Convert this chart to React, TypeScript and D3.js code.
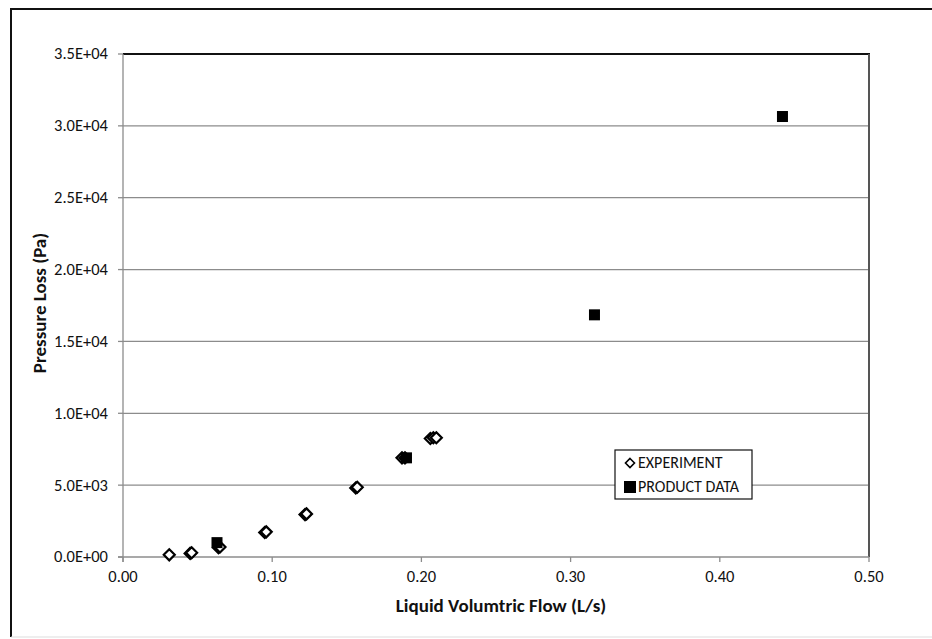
import React from "react";
import * as d3 from "d3";

const experimentFlow = [0.031, 0.045, 0.046, 0.064, 0.065, 0.095, 0.096, 0.122, 0.123, 0.156, 0.157, 0.187, 0.189, 0.206, 0.208, 0.210];
const experimentPressure = [150, 250, 300, 650, 700, 1700, 1750, 2950, 3000, 4800, 4850, 6900, 6900, 8250, 8300, 8300];
const productFlow = [0.063, 0.190, 0.316, 0.442];
const productPressure = [1000, 6900, 16850, 30650];
const xTicks = [0, 0.1, 0.2, 0.3, 0.4, 0.5];
const yTicks = [0, 5000, 10000, 15000, 20000, 25000, 30000, 35000];
const legendLabels = ["EXPERIMENT", "PRODUCT DATA"];

const W = 932, H = 639;
const FONT = "Carlito, 'Open Sans', 'Liberation Sans', sans-serif";

export default function App() {
  const x = d3.scaleLinear().domain([0, 0.5]).range([123, 869]);
  const y = d3.scaleLinear().domain([0, 35000]).range([557, 54]);
  const fmtY = (v: number) => {
    const s = v.toExponential(1).toUpperCase();
    return s.replace(/E([+-])(\d)$/, "E$10$2");
  };
  const diamond = (cx: number, cy: number, r: number) =>
    `M${cx},${cy - r}L${cx + r},${cy}L${cx},${cy + r}L${cx - r},${cy}Z`;

  return (
    <svg width={W} height={H} style={{ position: "absolute", left: 0, top: 0 }} fontFamily={FONT}>
      <rect x={0} y={0} width={W} height={H} fill="#fff" />
      {/* outer frame */}
      <line x1={11} y1={8} x2={11} y2={637} stroke="#111" strokeWidth={2} />
      <line x1={10} y1={9} x2={W} y2={9} stroke="#111" strokeWidth={2} />
      <line x1={11} y1={637} x2={W} y2={637} stroke="#ddd" strokeWidth={1} />

      {/* gridlines */}
      {yTicks.filter((t) => t > 0 && t < 35000).map((t) => (
        <line key={t} x1={x(0)} x2={x(0.5)} y1={y(t)} y2={y(t)} stroke="#8c8c8c" strokeWidth={1.3} />
      ))}
      {/* plot border */}
      <line x1={x(0)} x2={x(0.5) + 1} y1={y(35000)} y2={y(35000)} stroke="#111" strokeWidth={2} />
      <line x1={x(0.5)} x2={x(0.5)} y1={y(35000)} y2={y(0)} stroke="#555" strokeWidth={2} />
      {/* axes */}
      <line x1={x(0)} x2={x(0)} y1={y(35000)} y2={y(0) + 5} stroke="#8c8c8c" strokeWidth={1.3} />
      <line x1={x(0) - 5} x2={x(0.5)} y1={y(0)} y2={y(0)} stroke="#8c8c8c" strokeWidth={1.3} />
      {yTicks.map((t) => (
        <g key={t}>
          <line x1={x(0) - 5} x2={x(0)} y1={y(t)} y2={y(t)} stroke="#8c8c8c" strokeWidth={1.3} />
          <text x={108} y={y(t)} dy="0.33em" textAnchor="end" fontSize={16.5} fill="#111">{fmtY(t)}</text>
        </g>
      ))}
      {xTicks.map((t) => (
        <g key={t}>
          <line x1={x(t)} x2={x(t)} y1={y(0)} y2={y(0) + 5} stroke="#8c8c8c" strokeWidth={1.3} />
          <text x={x(t)} y={577} dy="0.33em" textAnchor="middle" fontSize={16.5} fill="#111">{t.toFixed(2)}</text>
        </g>
      ))}
      <text x={501} y={606} dy="0.33em" textAnchor="middle" fontSize={19} fontWeight="bold" fill="#111">Liquid Volumtric Flow (L/s)</text>
      <text transform={`translate(40,${303}) rotate(-90)`} dy="0.33em" textAnchor="middle" fontSize={19} fontWeight="bold" fill="#111">Pressure Loss (Pa)</text>

      {/* experiment */}
      {experimentFlow.map((f, i) => (
        <path key={"e" + i} d={diamond(x(f), y(experimentPressure[i]), 5.5)} fill="#fff" stroke="#000" strokeWidth={2.2} />
      ))}
      {/* product data */}
      {productFlow.map((f, i) => (
        <rect key={"p" + i} x={x(f) - 5.5} y={y(productPressure[i]) - 5.5} width={11} height={11} fill="#000" />
      ))}

      {/* legend */}
      <rect x={615} y={450} width={137} height={49} fill="#fff" stroke="#111" strokeWidth={1.2} />
      <path d={diamond(630, 463, 4.5)} fill="#fff" stroke="#000" strokeWidth={1.6} />
      <text x={638} y={463} dy="0.33em" fontSize={16} fill="#111">{legendLabels[0]}</text>
      <rect x={624} y={481} width={12} height={12} fill="#000" />
      <text x={638} y={487} dy="0.33em" fontSize={16} fill="#111">{legendLabels[1]}</text>
    </svg>
  );
}
